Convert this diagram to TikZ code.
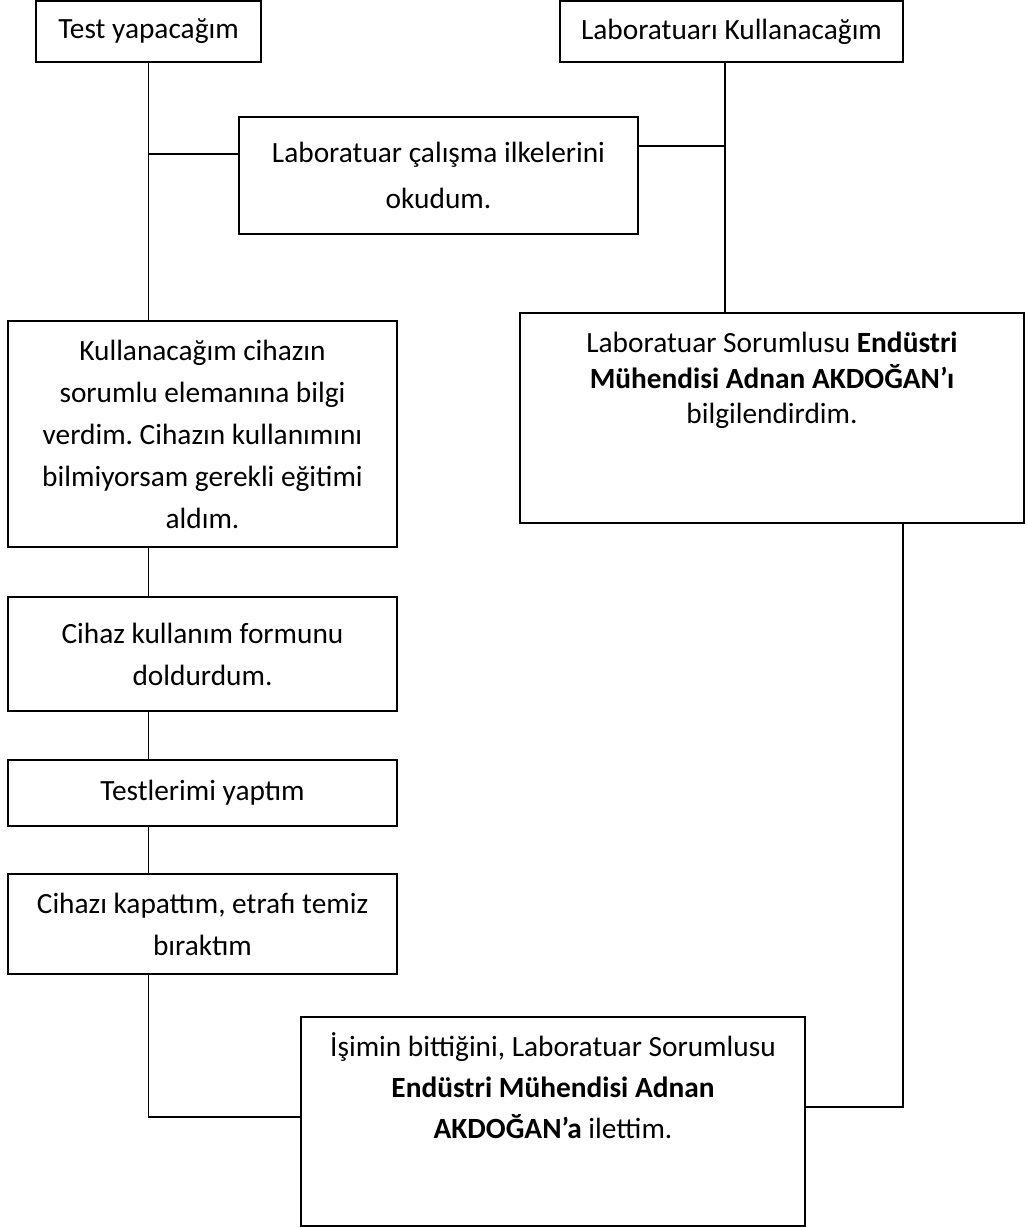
\documentclass[tikz,border=0pt]{standalone}
\usepackage{fontspec}
\setmainfont{Carlito}
\frenchspacing
\usetikzlibrary{calc}

\tikzset{
  kutu/.style={draw, line width=1.1pt, inner sep=0pt, outer sep=0pt, align=center, anchor=north west},
  boyut/.style 2 args={minimum width=#1*0.02cm, minimum height=#2*0.02cm},
  hat/.style={line width=1.1pt},
}

\begin{document}
\begin{tikzpicture}[x=0.02cm, y=-0.02cm, font=\fontsize{16.7}{23.9}\selectfont]
  \useasboundingbox (0,0) rectangle (1027,1227);

  % kutular
  \node[kutu, boyut={225}{61}] (test) at (36,1) {Test yapacağım};
  \node[kutu, boyut={343}{61}] (labk) at (560,1) {Laboratuarı Kullanacağım};
  \node[kutu, boyut={399}{117}, font=\fontsize{16.7}{26.2}\selectfont] (labcal) at (239,117)
    {Laboratuar çalışma ilkelerini\\okudum.};
  \node[kutu, boyut={389}{226}] (kull) at (8,321)
    {Kullanacağım cihazın\\sorumlu elemanına bilgi\\verdim. Cihazın kullanımını\\bilmiyorsam gerekli eğitimi\\aldım.};
  \node[kutu, boyut={504}{210}] (sorumlu) at (520,313)
    {\parbox[c][3.44cm][t]{9.6cm}{\centering\fontsize{16.7}{20.2}\selectfont
      Laboratuar Sorumlusu \textbf{Endüstri}\\ \textbf{Mühendisi Adnan AKDOĞAN’ı}\\ bilgilendirdim.}};
  \node[kutu, boyut={389}{114}] (cihaz) at (8,597) {Cihaz kullanım formunu\\doldurdum.};
  \node[kutu, boyut={389}{66}] (testler) at (8,760) {Testlerimi yaptım};
  \node[kutu, boyut={389}{100}] (kapat) at (8,874) {Cihazı kapattım, etrafı temiz\\bıraktım};
  \node[kutu, boyut={504}{209}] (isimin) at (301,1017)
    {\parbox[c][3.54cm][t]{9.6cm}{\centering\fontsize{16.7}{23.3}\selectfont
      İşimin bittiğini, Laboratuar Sorumlusu\\ \textbf{Endüstri Mühendisi Adnan}\\ \textbf{AKDOĞAN’a} ilettim.}};

  % baglanti noktalari
  \coordinate (t1) at ($(labcal.north west)!0.32!(labcal.south west)$);
  \coordinate (t2) at ($(labcal.north east)!0.25!(labcal.south east)$);
  \coordinate (k1) at ($(labk.south west)!0.48!(labk.south east)$);
  \coordinate (s1) at ($(sorumlu.south west)!0.76!(sorumlu.south east)$);
  \coordinate (i1) at ($(isimin.north west)!0.48!(isimin.south west)$);
  \coordinate (i2) at ($(isimin.north east)!0.43!(isimin.south east)$);

  % cizgiler
  \draw[hat] (test.south) -- (test.south |- kull.north);
  \draw[hat] (t1) -- (test.south |- t1);
  \draw[hat] (k1) -- (k1 |- sorumlu.north);
  \draw[hat] (t2) -- (k1 |- t2);
  \draw[hat] (test.south |- kull.south) -- (test.south |- cihaz.north);
  \draw[hat] (test.south |- cihaz.south) -- (test.south |- testler.north);
  \draw[hat] (test.south |- testler.south) -- (test.south |- kapat.north);
  \draw[hat] (test.south |- kapat.south) |- (i1);
  \draw[hat] (s1) |- (i2);
\end{tikzpicture}
\end{document}
